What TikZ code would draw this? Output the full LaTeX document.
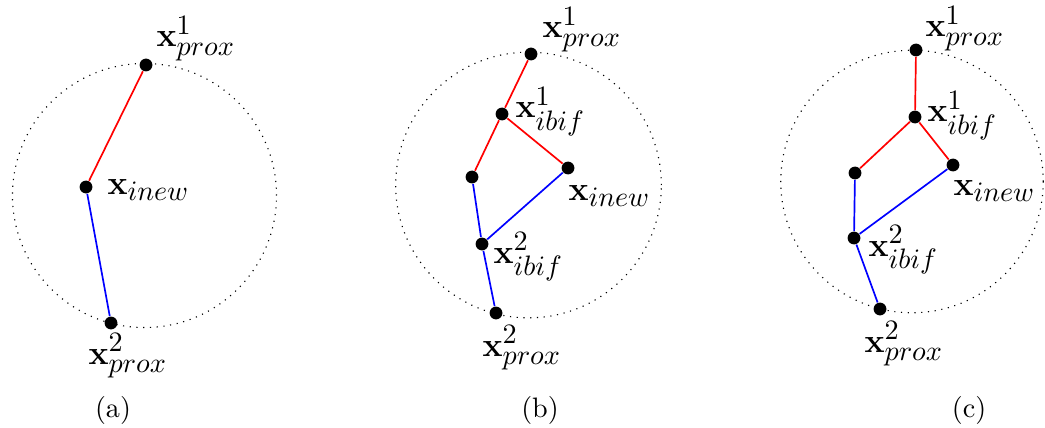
\documentclass[tikz,border=0pt]{standalone}
\usepackage{amsmath, amssymb}
\usepackage{xcolor}
\usepackage{tikz}
\usetikzlibrary{positioning, calc}
\DeclareMathSizes{12}{12.5}{10}{7}

\begin{document}
\begin{tikzpicture}[
    x=0.0125cm, y=-0.0125cm,
    pt/.style={circle, fill=black, inner sep=0pt, minimum size=0.16cm},
    lbl/.style={anchor=base west, inner sep=0pt, font=\large},
    subcap/.style={font=\normalsize},
    ring/.style={dotted, black},
    redline/.style={red, semithick},
    blueline/.style={blue, semithick}
]
    \useasboundingbox (0,0) rectangle (1045,428);

    % (a)
    \draw[ring] (144.5,195.5) circle (1.65cm);
    \node[pt] (a_prox1) at (146,65) {};
    \node[pt] (a_inew) at (86,187) {};
    \node[pt] (a_prox2) at (111,323) {};
    \node[lbl] (a_prox1_lbl) at (156,47) {$\mathbf{x}_{prox}^{1}$};
    \node[lbl] (a_inew_lbl) at (107,194) {$\mathbf{x}_{inew}$};
    \node[lbl] (a_prox2_lbl) at (88,364) {$\mathbf{x}_{prox}^{2}$};
    \draw[redline] (a_prox1) -- (a_inew);
    \draw[blueline] (a_inew) -- (a_prox2);
    \node[subcap] (a_cap) at (113,410) {(a)};

    % (b)
    \draw[ring] (528.5,185) circle (1.66cm);
    \node[pt] (b_prox1) at (531,54) {};
    \node[pt] (b_ibif1) at (502,114) {};
    \node[pt] (b_left) at (472,177) {};
    \node[pt] (b_inew) at (568,168) {};
    \node[pt] (b_ibif2) at (482,244) {};
    \node[pt] (b_prox2) at (496,313) {};
    \node[lbl] (b_prox1_lbl) at (542,38) {$\mathbf{x}_{prox}^{1}$};
    \node[lbl] (b_ibif1_lbl) at (515,118) {$\mathbf{x}_{ibif}^{1}$};
    \node[lbl] (b_inew_lbl) at (568,200) {$\mathbf{x}_{inew}$};
    \node[lbl] (b_ibif2_lbl) at (493,263) {$\mathbf{x}_{ibif}^{2}$};
    \node[lbl] (b_prox2_lbl) at (482,356) {$\mathbf{x}_{prox}^{2}$};
    \draw[redline] (b_prox1) -- (b_ibif1);
    \draw[redline] (b_ibif1) -- (b_left);
    \draw[redline] (b_ibif1) -- (b_inew);
    \draw[blueline] (b_left) -- (b_ibif2);
    \draw[blueline] (b_inew) -- (b_ibif2);
    \draw[blueline] (b_ibif2) -- (b_prox2);
    \node[subcap] (b_cap) at (540,410) {(b)};

    % (c)
    \draw[ring] (912,181.5) circle (1.64cm);
    \node[pt] (c_prox1) at (916,50) {};
    \node[pt] (c_ibif1) at (915,117) {};
    \node[pt] (c_left) at (855,173) {};
    \node[pt] (c_inew) at (953,165) {};
    \node[pt] (c_ibif2) at (854,238) {};
    \node[pt] (c_prox2) at (880,309) {};
    \node[lbl] (c_prox1_lbl) at (925,37) {$\mathbf{x}_{prox}^{1}$};
    \node[lbl] (c_ibif1_lbl) at (927,122) {$\mathbf{x}_{ibif}^{1}$};
    \node[lbl] (c_inew_lbl) at (953,195) {$\mathbf{x}_{inew}$};
    \node[lbl] (c_ibif2_lbl) at (868,256) {$\mathbf{x}_{ibif}^{2}$};
    \node[lbl] (c_prox2_lbl) at (864,352) {$\mathbf{x}_{prox}^{2}$};
    \draw[redline] (c_prox1) -- (c_ibif1);
    \draw[redline] (c_ibif1) -- (c_left);
    \draw[redline] (c_ibif1) -- (c_inew);
    \draw[blueline] (c_left) -- (c_ibif2);
    \draw[blueline] (c_inew) -- (c_ibif2);
    \draw[blueline] (c_ibif2) -- (c_prox2);
    \node[subcap] (c_cap) at (969,410) {(c)};

\end{tikzpicture}
\end{document}
